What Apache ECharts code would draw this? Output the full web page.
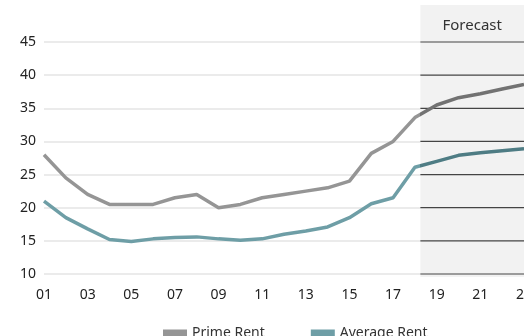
<!DOCTYPE html>
<html>
<head>
<meta charset="utf-8">
<script src="https://cdn.jsdelivr.net/npm/echarts@6/dist/echarts.min.js"></script>
<style>
  html, body { margin: 0; padding: 0; background: #fff; }
  #chart { width: 524px; height: 336px; }
</style>
</head>
<body>
<div id="chart"></div>
<script>
// Years (two-digit) along the x axis
const years = ['01','02','03','04','05','06','07','08','09','10','11','12',
               '13','14','15','16','17','18','19','20','21','22','23'];

// Rent series
const primeRent   = [28, 24.5, 22, 20.5, 20.5, 20.5, 21.5, 22, 20, 20.5, 21.5, 22,
                     22.5, 23, 24, 28.2, 30, 33.6, 35.5, 36.6, 37.2, 37.9, 38.6];
const averageRent = [21, 18.5, 16.8, 15.2, 14.9, 15.3, 15.5, 15.6, 15.3, 15.1, 15.3, 16,
                     16.5, 17.1, 18.5, 20.6, 21.5, 26.1, 27, 27.9, 28.3, 28.6, 28.9];

// Forecast period begins a quarter of the way between '18' and '19'
const forecastFrom = 17.25;
const forecastLabel = 'Forecast';

const FONT = 'Noto Sans';
const W = 524;
const PRIME = '#959595', PRIME_FC = '#727272';
const AVG = '#6e9ea6', AVG_FC = '#4e7c84';

const chart = echarts.init(document.getElementById('chart'));

chart.setOption({
  animation: false,
  backgroundColor: '#ffffff',
  textStyle: { fontFamily: FONT },
  grid: { left: 44, right: 0, top: 42, bottom: 62, outerBoundsMode: 'none', containLabel: false },
  legend: {
    left: 158,
    top: 321,
    itemWidth: 24,
    itemHeight: 7,
    itemGap: 46,
    icon: 'rect',
    textStyle: { fontFamily: FONT, fontSize: 14, color: '#333' },
    data: [
      { name: 'Prime Rent', itemStyle: { color: PRIME } },
      { name: 'Average Rent', itemStyle: { color: AVG } }
    ]
  },
  xAxis: {
    type: 'category',
    data: years,
    boundaryGap: false,
    axisLine: { show: false },
    axisTick: { show: false },
    axisLabel: { interval: 1, margin: 14, fontSize: 14, color: '#222', fontFamily: FONT }
  },
  yAxis: {
    type: 'value',
    min: 10,
    max: 45,
    interval: 5,
    axisLine: { show: false },
    axisTick: { show: false },
    axisLabel: { margin: 8, fontSize: 14, color: '#222', fontFamily: FONT },
    splitLine: { lineStyle: { color: '#e4e4e4', width: 1.5 } }
  },
  series: [
    { name: 'Prime Rent', type: 'line', data: primeRent, z: 5,
      showSymbol: false, symbol: 'none',
      itemStyle: { color: PRIME },
      lineStyle: { width: 3.5, color: PRIME } },
    { name: 'Average Rent', type: 'line', data: averageRent, z: 5,
      showSymbol: false, symbol: 'none',
      itemStyle: { color: AVG },
      lineStyle: { width: 3.5, color: AVG } }
  ]
});

// Sharp colour change at the forecast boundary, in page coordinates
function splitColor(before, after, f) {
  return { type: 'linear', x: 0, y: 0, x2: W, y2: 0, global: true,
    colorStops: [
      { offset: 0, color: before }, { offset: f, color: before },
      { offset: f, color: after },  { offset: 1, color: after }
    ] };
}

// Shaded forecast panel with its own darker grid lines
function drawForecastPanel() {
  const i0 = Math.floor(forecastFrom);
  const x0 = chart.convertToPixel({ xAxisIndex: 0 }, years[i0]);
  const x1 = chart.convertToPixel({ xAxisIndex: 0 }, years[i0 + 1]);
  const startX = x0 + (x1 - x0) * (forecastFrom - i0);
  const endX = W;
  const yBottom = chart.convertToPixel({ yAxisIndex: 0 }, 10);
  const f = startX / W;
  const elements = [
    { type: 'rect', z: 1, silent: true,
      shape: { x: startX, y: 5, width: endX - startX, height: yBottom + 3 - 5 },
      style: { fill: '#f2f2f2' } },
    { type: 'text', z: 2, silent: true,
      x: (startX + endX) / 2, y: 26,
      style: { text: forecastLabel, align: 'center', verticalAlign: 'middle',
               font: '15px "' + FONT + '"', fill: '#333' } }
  ];
  for (let v = 10; v <= 45; v += 5) {
    const y = chart.convertToPixel({ yAxisIndex: 0 }, v);
    elements.push({ type: 'line', z: 2, silent: true,
      shape: { x1: startX, y1: y, x2: endX, y2: y },
      style: { stroke: '#444', lineWidth: 1.2 } });
  }
  chart.setOption({
    graphic: { elements: elements },
    series: [
      { lineStyle: { color: splitColor(PRIME, PRIME_FC, f) } },
      { lineStyle: { color: splitColor(AVG, AVG_FC, f) } }
    ]
  });
}
drawForecastPanel();
</script>
</body>
</html>
